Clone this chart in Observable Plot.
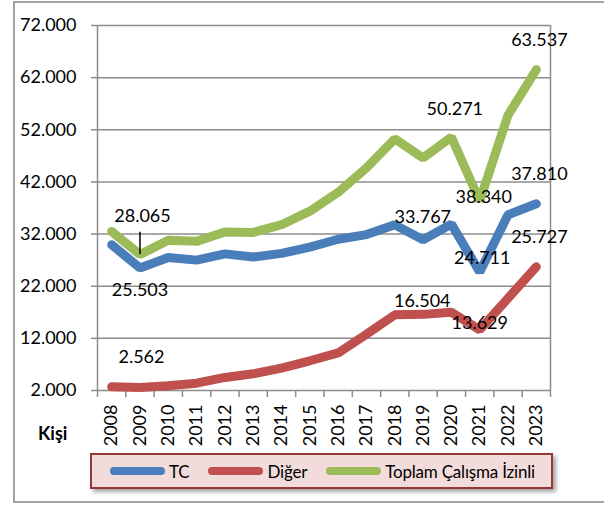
<!DOCTYPE html>
<html>
<head>
<meta charset="utf-8">
<script src="https://cdn.jsdelivr.net/npm/d3@7"></script>
<script src="https://cdn.jsdelivr.net/npm/@observablehq/plot@0.6"></script>
<style>
  html, body { margin: 0; padding: 0; background: #fff; }
  #wrap { position: relative; width: 604px; height: 507px; overflow: hidden; font-family: Lato, "Open Sans", sans-serif; color: #000; }
  #frame { position: absolute; left: 13px; top: 1px; width: 640px; height: 502px; border: 2px solid #a3a3a3; box-sizing: border-box; pointer-events: none; }
  #unit { position: absolute; left: 38px; top: 422px; font-weight: bold; font-size: 18px; line-height: 22px; }
  #legend { position: absolute; left: 90px; top: 453px; width: 463px; height: 36px; box-sizing: border-box;
            background: #f2dcdb; border: 2px solid #953735; box-shadow: 3px 3px 4px rgba(0,0,0,0.35);
            display: flex; align-items: center; padding-left: 18px; font-size: 17px; white-space: nowrap; overflow: hidden; }
  .item { display: flex; align-items: center; margin-right: 19px; flex-shrink: 0; }
  .swatch { width: 55px; height: 8px; border-radius: 4px; margin-right: 4px; flex-shrink: 0; }
  .item span { letter-spacing: -0.2px; }
</style>
</head>
<body>
<div id="wrap">
  <div id="chart"></div>
  <div id="frame"></div>
  <div id="unit">Kişi</div>
  <div id="legend"></div>
</div>
<script>
// ---- data ----
const years = [2008, 2009, 2010, 2011, 2012, 2013, 2014, 2015, 2016, 2017, 2018, 2019, 2020, 2021, 2022, 2023];
const seriesNames = ["TC", "Diğer", "Toplam Çalışma İzinli"];
const seriesColors = ["#4a7ebb", "#c0504d", "#9bbb59"];
const tcValues     = [29950, 25503, 27500, 27000, 28200, 27600, 28300, 29500, 31000, 31900, 33767, 30900, 33900, 24711, 35700, 37810];
const digerValues  = [2700, 2562, 2900, 3400, 4500, 5200, 6300, 7700, 9200, 12800, 16504, 16600, 17000, 13629, 19700, 25727];
const toplamValues = [32500, 28065, 30800, 30600, 32400, 32300, 33800, 36400, 40000, 44700, 50271, 46600, 50600, 38340, 54800, 63537];
const yTicks = [2000, 12000, 22000, 32000, 42000, 52000, 62000, 72000];
// labelled points: [series index, year]
const labelSeries = [2, 0, 1, 0, 1, 2, 2, 0, 1, 0, 1, 2];
const labelYears  = [2009, 2009, 2009, 2018, 2018, 2018, 2021, 2021, 2021, 2023, 2023, 2023];
// label placement (px offsets from the point)
const labelDx = [2.5, 0, 1.5, 28, 27.5, 60, 4, 2.5, 0, 3, 3, 3];
const labelDy = [-38, 22, -30, -7.5, -14, -30, -3.5, -14, -7, -30, -30, -29];
const leaderLength = 4300;

const allValues = [tcValues, digerValues, toplamValues];
const rows = [];
seriesNames.forEach((s, i) => years.forEach((y, j) => rows.push({series: s, year: y, value: allValues[i][j]})));
const labels = labelSeries.map((si, k) => ({
  series: seriesNames[si], year: labelYears[k],
  value: allValues[si][years.indexOf(labelYears[k])], dx: labelDx[k], dy: labelDy[k]
}));

const trLocale = d3.formatLocale({decimal: ",", thousands: ".", grouping: [3], currency: ["", ""]});
const fmt = trLocale.format(",d");
const boundaries = [...years.map(y => y - 0.5), years[years.length - 1] + 0.5];
const gridColor = "#8c8c8c";

const labelMarks = labels.map(l => Plot.text([l], {
  x: "year", y: "value", text: d => fmt(d.value), dx: l.dx, dy: l.dy,
  fontSize: 18, fill: "#000"
}));

const chart = Plot.plot({
  width: 604, height: 507,
  marginLeft: 97, marginRight: 54, marginTop: 25, marginBottom: 117,
  style: {fontFamily: "Lato, 'Open Sans', sans-serif", fontSize: "18px", color: "#000", background: "transparent"},
  x: {type: "linear", domain: [years[0] - 0.5, years[years.length - 1] + 0.5]},
  y: {type: "linear", domain: [yTicks[0], yTicks[yTicks.length - 1]]},
  marks: [
    Plot.gridY(yTicks, {stroke: gridColor, strokeOpacity: 1, strokeWidth: 1.5}),
    Plot.ruleX([boundaries[0], boundaries[boundaries.length - 1]], {stroke: gridColor, strokeWidth: 1.5}),
    Plot.axisY(yTicks, {tickSize: 6, tickPadding: 15, tickFormat: fmt, stroke: gridColor, strokeWidth: 1.5, fill: "#000", fontSize: 18, label: null}),
    Plot.axisX(boundaries, {tickSize: 7, tickFormat: () => "", stroke: gridColor, strokeWidth: 1.5, label: null}),
    Plot.axisX(years, {tickSize: 0, tickPadding: 14, tickRotate: -90, tickFormat: d => String(d), fill: "#000", fontSize: 18, label: null}),
    ...seriesNames.map((s, i) => Plot.line(rows.filter(r => r.series === s), {
      x: "year", y: "value", stroke: seriesColors[i], strokeWidth: 9,
      strokeLinecap: "round", strokeLinejoin: "miter"
    })),
    Plot.ruleX([labels[0]], {x: "year", y1: "value", y2: d => d.value + leaderLength, stroke: "#000", strokeWidth: 1.5}),
    ...labelMarks
  ]
});
document.getElementById("chart").appendChild(chart);

const legend = d3.select("#legend");
seriesNames.forEach((s, i) => {
  const it = legend.append("div").attr("class", "item");
  it.append("div").attr("class", "swatch").style("background", seriesColors[i]);
  it.append("span").text(s);
});
</script>
</body>
</html>
